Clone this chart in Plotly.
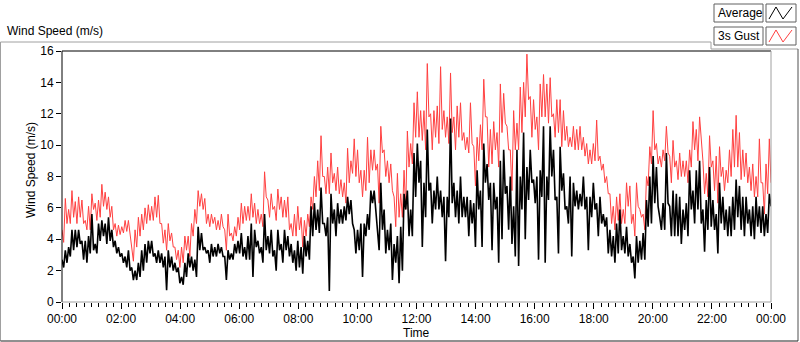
import numpy as np
import pandas as pd
import plotly.graph_objects as go

# ---- data (m/s); each window has a high and a low reading ----
gust_hi = [4.6,6.6,5.9,7.1,6.4,6.7,6.5,5.2,6.1,6.9,6.3,6.5,7.5,7.0,6.7,6.1,5.0,4.9,4.8,5.2,5.2,3.5,4.6,5.4,5.6,6.0,6.2,6.1,6.7,6.8,5.0,4.6,5.0,4.4,3.5,3.3,3.5,4.2,4.2,5.0,5.9,7.1,6.9,
           6.6,5.6,5.6,5.4,5.2,5.6,4.6,5.6,4.4,4.8,5.4,6.3,6.1,6.1,6.9,6.3,5.9,5.6,8.3,6.5,6.9,6.1,7.2,6.7,6.5,6.7,5.0,5.6,6.1,5.4,5.2,5.6,6.7,8.0,9.0,10.6,8.0,8.6,9.5,8.2,8.6,7.8,7.6,
           9.8,9.0,10.4,9.7,8.4,8.4,10.5,9.7,9.7,8.8,11.2,9.7,9.0,8.8,6.7,8.2,6.9,8.4,10.9,10.1,12.7,13.4,12.2,12.2,15.2,12.0,12.2,12.5,15.0,12.2,11.8,14.6,11.8,12.5,12.7,10.8,10.5,12.7,9.9,10.5,11.3,14.2,11.8,
           11.0,11.5,10.8,13.9,13.3,11.2,9.7,12.2,11.4,13.7,14.0,15.8,13.1,12.9,11.8,13.9,14.5,13.9,14.3,12.0,12.9,12.9,12.2,11.2,10.5,11.2,11.0,11.2,10.5,10.1,9.7,10.1,11.6,9.3,8.8,8.0,6.9,6.1,6.7,6.9,5.9,7.6,7.4,
           5.6,7.6,5.9,5.6,8.0,9.9,12.2,10.1,9.3,9.7,11.2,9.3,10.3,9.0,9.5,9.0,9.0,9.7,11.5,11.0,11.8,9.0,8.2,10.6,9.0,9.3,9.9,8.6,8.4,9.7,11.0,11.9,10.8,9.7,9.5,8.6,8.8,8.0,10.4,7.6,8.8,10.4]
gust_lo = [3.8,5.0,5.0,5.4,5.0,5.4,5.0,4.6,4.6,5.9,5.2,5.4,6.1,5.9,5.4,4.6,4.2,4.3,4.4,4.5,4.2,2.6,3.5,4.2,4.6,5.0,5.2,5.2,5.4,5.0,3.75,3.3,3.9,3.5,2.7,2.2,2.5,3.3,2.9,4.2,5.0,6.1,5.9,
           5.0,4.8,5.0,4.6,4.6,4.8,3.3,4.2,3.9,4.2,4.6,5.0,5.2,5.2,5.4,5.0,5.0,4.8,6.7,5.4,5.9,5.2,5.9,5.4,5.4,4.6,4.2,4.2,4.6,3.5,4.2,4.8,5.9,6.7,7.1,8.0,6.9,6.9,7.6,7.1,6.9,6.7,6.3,
           7.6,8.2,8.0,7.6,6.7,7.1,7.6,8.4,8.4,6.3,9.5,8.0,7.6,7.1,4.8,5.4,5.4,5.9,8.6,8.8,10.5,10.5,10.3,9.7,11.8,9.7,10.5,10.1,11.0,10.5,10.1,10.8,9.7,10.5,10.3,9.7,9.5,10.1,7.4,9.0,9.7,11.8,8.6,
           8.8,9.7,8.6,10.8,11.4,9.7,7.1,9.7,9.7,10.8,11.8,12.9,10.5,11.0,9.7,11.8,11.8,11.4,11.8,10.5,10.8,9.9,10.3,9.9,9.9,9.7,9.7,9.7,9.3,8.8,8.8,9.0,9.0,8.4,7.6,6.9,5.0,4.6,5.2,5.0,5.0,6.1,5.0,
           4.2,6.1,5.4,4.6,7.4,8.8,9.7,8.8,8.6,9.0,9.5,7.6,8.6,7.8,8.0,8.0,7.6,8.6,9.7,9.0,10.5,6.9,6.7,8.6,7.1,6.3,8.0,7.1,7.6,8.0,8.6,8.6,7.8,8.0,7.6,7.1,6.7,6.7,7.6,5.6,6.9,7.6]
avg_hi = [2.7,3.3,3.5,4.6,4.6,4.6,3.9,3.9,4.2,5.6,3.7,5.0,5.2,5.0,5.4,4.6,3.9,3.5,3.1,2.9,3.3,2.2,2.0,2.5,3.3,3.7,3.9,3.9,3.1,3.3,3.1,2.9,3.3,2.9,2.5,2.2,1.6,2.5,3.1,2.9,2.7,4.8,4.4,
          3.5,3.3,3.7,3.5,3.7,3.5,2.9,3.3,3.1,3.7,3.9,4.4,3.5,4.2,5.0,4.6,3.9,3.5,5.6,4.2,4.6,3.3,4.6,3.7,4.6,4.2,3.7,3.3,3.9,3.5,4.2,3.9,6.1,6.3,5.9,7.3,5.0,5.4,6.9,5.9,6.3,5.9,6.1,
          6.7,6.5,4.6,4.6,5.0,5.0,5.6,7.1,7.1,5.0,7.6,5.9,4.6,5.0,3.7,4.2,4.8,6.9,7.1,5.9,9.5,10.1,9.0,7.6,11.0,7.6,7.1,8.0,7.1,6.7,6.7,11.7,7.6,7.1,8.0,6.7,6.7,6.5,6.3,8.4,7.1,10.1,8.8,
          7.6,7.6,6.7,9.0,9.7,7.4,8.0,6.1,9.7,8.0,10.8,8.6,9.7,7.8,8.0,8.4,11.2,8.0,11.2,9.7,6.7,9.9,8.2,6.1,8.0,7.6,7.1,6.9,8.0,6.7,6.7,7.6,6.3,6.7,5.6,5.4,4.6,4.2,5.0,5.9,4.2,4.8,3.7,
          2.9,4.2,3.9,4.4,6.5,8.0,9.3,8.6,5.4,6.3,9.5,6.1,7.1,6.9,6.7,5.9,6.3,8.4,7.1,8.4,9.0,5.9,6.5,8.6,6.5,5.6,7.6,6.7,5.9,6.1,6.7,7.8,7.4,6.7,6.7,5.9,6.1,6.7,6.1,6.1,5.6,6.9]
avg_lo = [2.2,2.5,2.9,3.3,3.5,3.7,2.7,2.5,3.1,3.3,3.1,3.9,4.2,3.7,3.9,3.5,3.1,2.9,2.5,2.2,2.0,1.4,1.4,1.6,2.0,2.5,3.1,2.9,2.5,2.5,2.2,0.75,2.2,2.0,1.9,1.2,1.1,1.6,2.2,2.0,1.6,3.3,3.3,
          3.1,2.5,2.9,2.9,3.1,2.9,1.4,2.7,2.7,3.1,3.1,2.9,2.7,2.7,1.6,3.5,3.1,2.5,3.3,3.1,2.9,2.0,3.3,2.5,3.3,2.9,2.5,2.0,2.2,1.8,2.9,2.7,4.2,4.6,4.4,5.0,4.2,0.7,5.0,4.2,5.0,5.0,5.2,
          5.6,5.0,3.1,3.3,1.6,4.2,4.6,6.3,5.9,3.3,4.6,3.1,3.3,1.4,2.5,1.2,2.0,5.9,4.2,4.2,6.7,7.6,3.5,5.4,7.1,5.0,5.9,5.9,5.4,2.6,5.4,6.3,5.4,5.0,5.4,5.4,4.2,5.0,3.5,5.9,3.5,7.6,6.5,
          3.3,5.9,2.5,4.0,6.9,4.6,3.7,2.9,2.3,5.9,4.0,6.5,7.6,6.3,2.7,6.7,2.5,6.5,8.0,6.5,3.1,7.1,5.9,5.0,2.9,6.1,5.9,6.1,5.9,3.3,5.4,5.9,4.2,5.0,4.8,3.1,2.9,2.5,3.1,3.3,3.1,2.9,2.5,
          1.5,2.5,2.7,2.7,4.8,5.0,6.3,6.1,4.6,4.6,6.3,4.2,4.2,4.2,3.7,4.6,4.2,5.9,5.0,5.9,5.0,3.2,4.6,4.8,4.6,3.1,5.0,4.6,4.2,4.2,4.6,5.4,4.6,4.2,5.0,4.2,4.0,4.8,4.4,4.2,4.4,6.1]

y_ticks = [0, 2, 4, 6, 8, 10, 12, 14, 16]
series_names = ["Average", "3s Gust"]


def interleave(hi, lo):
    out = []
    for h, l in zip(hi, lo):
        out += [h, l]
    return out


gust = interleave(gust_hi, gust_lo)
avg = interleave(avg_hi, avg_lo)
n = len(gust)
start = pd.Timestamp("2024-01-01 00:00")
end = start + pd.Timedelta(days=1)
times = start + pd.to_timedelta(np.linspace(0, 1440, n), unit="min")

W, H = 800, 342
L, R, T, B = 62, 29, 51, 40
pw, ph = W - L - R, H - T - B


def px(x):
    return (x - L) / pw


def py(y):
    return (H - B - y) / ph


FONT = "Liberation Sans Narrow, Arial Narrow, Liberation Sans, Arial, sans-serif"
RED = "#ff4040"

fig = go.Figure()
fig.add_trace(go.Scatter(x=times, y=gust, mode="lines", name=series_names[1],
                         line=dict(color=RED, width=1), showlegend=False))
fig.add_trace(go.Scatter(x=times, y=avg, mode="lines", name=series_names[0],
                         line=dict(color="black", width=1.6), showlegend=False))

shapes = []


def seg(x0, y0, x1, y1, color, width=1):
    shapes.append(dict(type="line", xref="paper", yref="paper",
                       x0=px(x0), y0=py(y0), x1=px(x1), y1=py(y1),
                       line=dict(color=color, width=width)))


# plot frame
seg(L, T, L, H - B, "black")
seg(L, T, W - R, T, "black")
seg(L, H - B, W - R, H - B, "#a0a0a0")
seg(W - R, T, W - R, H - B, "#a0a0a0")
# outer frame
seg(0.5, 42, 711, 42, "#a0a0a0")
seg(711, 42, 711, 49, "#a0a0a0")
seg(711, 49, 798, 49, "#a0a0a0")
seg(0.5, 42, 0.5, 341, "#a0a0a0")
seg(798, 49, 798, 341, "#505050")
seg(0.5, 341, 798, 341, "#202020")

annotations = []
# legend boxes
for i, (name, col) in enumerate(zip(series_names, ["black", RED])):
    y0 = 4 + i * 23
    y1 = y0 + 18
    shapes.append(dict(type="rect", xref="paper", yref="paper",
                       x0=px(714), x1=px(763), y0=py(y1), y1=py(y0),
                       line=dict(color="#606060", width=1), fillcolor="white"))
    shapes.append(dict(type="rect", xref="paper", yref="paper",
                       x0=px(766), x1=px(796), y0=py(y1), y1=py(y0),
                       line=dict(color="#606060", width=1), fillcolor="white"))
    pts = [(769, y1 - 3), (776, y0 + 3), (783, y1 - 3), (792, y0 + 3)]
    path = "M " + " L ".join(f"{px(a):.5f},{py(b):.5f}" for a, b in pts)
    shapes.append(dict(type="path", xref="paper", yref="paper", path=path,
                       line=dict(color=col, width=1)))
    annotations.append(dict(text=name, xref="paper", yref="paper", x=px(716), y=py((y0 + y1) / 2),
                            xanchor="left", yanchor="middle", showarrow=False,
                            font=dict(size=12, color="black", family=FONT)))

annotations.append(dict(text="Wind Speed (m/s)", xref="paper", yref="paper", x=px(5), y=py(31),
                        xanchor="left", yanchor="middle", showarrow=False,
                        font=dict(size=12, color="black", family=FONT)))
annotations.append(dict(text="Wind Speed (m/s)", xref="paper", yref="paper", x=px(31), y=py(170),
                        xanchor="center", yanchor="middle", showarrow=False, textangle=-90,
                        font=dict(size=12, color="black", family=FONT)))
annotations.append(dict(text="Time", xref="paper", yref="paper", x=px(416), y=py(333),
                        xanchor="center", yanchor="middle", showarrow=False,
                        font=dict(size=12, color="black", family=FONT)))

fig.update_layout(
    width=W, height=H,
    margin=dict(l=L, r=R, t=T, b=B, pad=0),
    paper_bgcolor="white", plot_bgcolor="white",
    font=dict(family=FONT, size=12, color="black"),
    shapes=shapes, annotations=annotations, showlegend=False,
    xaxis=dict(type="date", range=[start, end], tickformat="%H:%M", dtick=2 * 3600 * 1000,
               tick0=start, ticks="outside", ticklen=6, tickcolor="black", tickwidth=1,
               showgrid=False, zeroline=False, showline=False,
               tickfont=dict(size=12, family=FONT, color="black"),
               minor=dict(dtick=15 * 60 * 1000, ticks="outside", ticklen=4, tickcolor="black",
                          tickwidth=1, showgrid=False)),
    yaxis=dict(range=[0, 16], tickvals=y_ticks, ticks="outside", ticklen=5, tickcolor="black",
               showgrid=False, zeroline=False, showline=False,
               tickfont=dict(size=12, family=FONT, color="black")),
)

fig.write_html("out.html", config={"displayModeBar": False},
               post_script="document.body.style.margin='0';document.body.style.overflow='hidden';")
